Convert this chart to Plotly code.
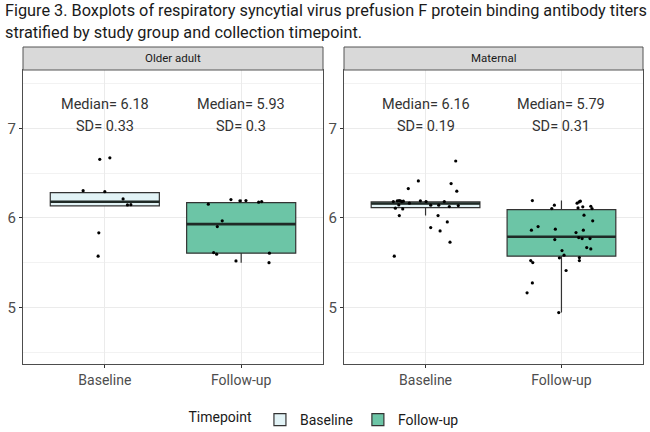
import plotly.graph_objects as go

# ---------------- data ----------------
groups = ["Older adult", "Maternal"]
timepoints = ["Baseline", "Follow-up"]

# Older adult, Baseline
oa_base_y = [6.654, 6.67, 6.304, 6.293, 6.212, 6.145, 6.148, 5.833, 5.573]
oa_base_jit = [-0.037, 0.037, -0.159, 0.0, 0.134, 0.166, 0.191, -0.044, -0.049]
# Older adult, Follow-up
oa_fu_y = [6.204, 6.19, 6.193, 6.175, 6.182, 6.153, 5.967, 5.903, 5.613, 5.595, 5.606, 5.52, 5.50]
oa_fu_jit = [-0.075, -0.009, 0.035, 0.128, 0.150, -0.241, -0.139, -0.175, -0.202, -0.180, 0.207, -0.038, 0.204]
# Maternal, Baseline
ma_base_y = [6.635, 6.412, 6.327, 6.383, 6.298, 6.182, 6.19, 6.193, 6.19, 6.182, 6.186, 6.164, 6.19,
             6.182, 6.182, 6.108, 6.145, 6.10, 6.026, 6.142, 6.142, 6.126, 6.137, 6.026, 5.955,
             5.892, 5.855, 5.729, 5.573]
ma_base_jit = [0.222, -0.053, -0.127, 0.188, 0.230, -0.237, -0.208, -0.195, -0.185, -0.175, -0.163,
               -0.119, -0.038, 0.004, 0.138, -0.222, -0.197, -0.168, -0.193, 0.038, 0.097, 0.175,
               0.241, 0.092, 0.160, 0.038, 0.107, 0.180, -0.230]
# Maternal, Follow-up
ma_fu_y = [6.193, 6.142, 6.104, 6.164, 6.178, 6.186, 6.111, 6.123, 6.13, 6.104, 6.03, 5.967, 5.903,
           5.863, 5.874, 5.836, 5.863, 5.758, 5.78, 5.769, 5.769, 5.669, 5.654, 5.635, 5.584, 5.554,
           5.557, 5.524, 5.524, 5.502, 5.413, 5.275, 5.164, 4.944]
ma_fu_jit = [-0.214, -0.052, -0.071, 0.115, 0.130, 0.139, 0.122, 0.157, 0.216, 0.225, 0.166, 0.230,
             -0.172, -0.221, -0.045, 0.107, 0.161, -0.049, 0.127, 0.152, 0.210, 0.186, 0.216, 0.004,
             0.019, -0.015, 0.132, 0.132, -0.226, -0.211, 0.034, -0.214, -0.253, -0.020]

points_y = [[oa_base_y, oa_fu_y], [ma_base_y, ma_fu_y]]
points_jit = [[oa_base_jit, oa_fu_jit], [ma_base_jit, ma_fu_jit]]

# box statistics [group][timepoint]
box_q1 = [[6.134, 5.606], [6.115, 5.573]]
box_median = [[6.18, 5.93], [6.16, 5.79]]
box_q3 = [[6.282, 6.171], [6.178, 6.093]]
box_lower = [[6.134, 5.50], [6.026, 4.944]]
box_upper = [[6.30, 6.204], [6.193, 6.193]]

median_labels = [["6.18", "5.93"], ["6.16", "5.79"]]
sd_labels = [["0.33", "0.3"], ["0.19", "0.31"]]

title_lines = ["Figure 3. Boxplots of respiratory syncytial virus prefusion F protein binding antibody titers",
               "stratified by study group and collection timepoint."]

# ---------------- style ----------------
FONT = "Roboto, Liberation Sans, sans-serif"
fills = ["#e2f3f6", "#6cc5a6"]
W, H = 650, 432
panel_x = [(23, 323), (344, 643)]
panel_top, panel_bot = 70, 364
strip_top = 47
BOX_W = 0.8

fig = go.Figure()
for gi, g in enumerate(groups):
    xa = "x" if gi == 0 else "x2"
    ya = "y" if gi == 0 else "y2"
    for ti, tp in enumerate(timepoints):
        pos = ti + 1
        fig.add_trace(go.Box(
            x=[pos], q1=[box_q1[gi][ti]], median=[box_median[gi][ti]], q3=[box_q3[gi][ti]],
            lowerfence=[box_lower[gi][ti]], upperfence=[box_upper[gi][ti]],
            width=BOX_W, whiskerwidth=0, boxpoints=False,
            fillcolor=fills[ti], line=dict(color="#333333", width=1.2),
            name=tp, legendgroup=tp, showlegend=(gi == 0), xaxis=xa, yaxis=ya))
        fig.add_trace(go.Scatter(
            x=[pos - BOX_W / 2, pos + BOX_W / 2], y=[box_median[gi][ti]] * 2, mode="lines",
            line=dict(color="#1f2a26", width=2.6), showlegend=False, hoverinfo="skip",
            xaxis=xa, yaxis=ya))
        fig.add_trace(go.Scatter(
            x=[pos + j for j in points_jit[gi][ti]], y=points_y[gi][ti], mode="markers",
            marker=dict(color="black", size=3.2), showlegend=False, xaxis=xa, yaxis=ya))
        fig.add_annotation(x=pos, y=7.26, xref=xa, yref=ya, text="Median= " + median_labels[gi][ti],
                           showarrow=False, xanchor="center", yanchor="middle",
                           font=dict(family=FONT, size=14.5, color="#333333"))
        fig.add_annotation(x=pos, y=7.025, xref=xa, yref=ya, text="SD= " + sd_labels[gi][ti],
                           showarrow=False, xanchor="center", yanchor="middle",
                           font=dict(family=FONT, size=14.5, color="#333333"))

    # strip
    x0, x1 = panel_x[gi]
    fig.add_shape(type="rect", xref="paper", yref="paper",
                  x0=x0 / W, x1=x1 / W, y0=1 - panel_top / H, y1=1 - strip_top / H,
                  fillcolor="#d9d9d9", line=dict(color="#555555", width=1))
    fig.add_annotation(x=(x0 + x1) / 2 / W, y=1 - (panel_top + strip_top) / 2 / H,
                       xref="paper", yref="paper", text=g, showarrow=False,
                       xanchor="center", yanchor="middle",
                       font=dict(family=FONT, size=11.5, color="#1a1a1a"))

for i, line in enumerate(title_lines):
    fig.add_annotation(x=3 / W, y=1 - (11 + 21 * i) / H, xref="paper", yref="paper",
                       xanchor="left", yanchor="middle", text=line, showarrow=False,
                       font=dict(family=FONT, size=16.3, color="#1a1a1a"))

xcommon = dict(range=[0.4, 2.6], tickvals=[1, 2], ticktext=timepoints, ticks="outside",
               ticklen=3, tickcolor="#333333", showline=True, mirror=True, linecolor="#4d4d4d",
               linewidth=1, showgrid=True, gridcolor="#ebebeb", gridwidth=1, zeroline=False,
               tickfont=dict(family=FONT, size=14, color="#4d4d4d"))
ycommon = dict(range=[4.37, 7.65], tickvals=[5, 6, 7], ticks="outside", ticklen=3,
               tickcolor="#333333", showline=True, mirror=True, linecolor="#4d4d4d", linewidth=1,
               showgrid=True, gridcolor="#ebebeb", gridwidth=1, zeroline=False,
               minor=dict(tickvals=[4.5, 5.5, 6.5, 7.5], showgrid=True, gridcolor="#f2f2f2",
                          gridwidth=0.6, ticks=""),
               tickfont=dict(family=FONT, size=15, color="#4d4d4d"),
               domain=[1 - panel_bot / H, 1 - panel_top / H])

fig.update_layout(
    width=W, height=H, margin=dict(l=0, r=0, t=0, b=0, autoexpand=False),
    plot_bgcolor="white", paper_bgcolor="white",
    xaxis=dict(xcommon, domain=[panel_x[0][0] / W, panel_x[0][1] / W], anchor="y"),
    yaxis=dict(ycommon, anchor="x"),
    xaxis2=dict(xcommon, domain=[panel_x[1][0] / W, panel_x[1][1] / W], anchor="y2"),
    yaxis2=dict(ycommon, anchor="x2"),
    showlegend=True,
    legend=dict(orientation="h", x=0.5, xanchor="center", y=1 - 420 / H, yanchor="middle",
                title=dict(text="Timepoint", side="left", font=dict(family=FONT, size=14, color="#1a1a1a")),
                font=dict(family=FONT, size=14, color="#1a1a1a"), itemwidth=30,
                bgcolor="rgba(0,0,0,0)"),
)

fig.write_html("out.html")
